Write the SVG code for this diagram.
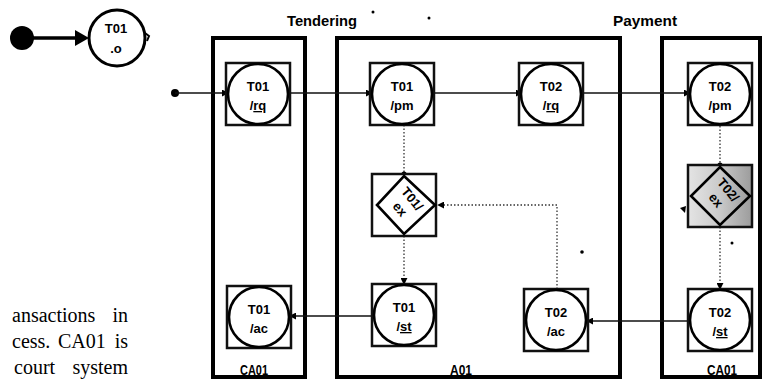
<svg xmlns="http://www.w3.org/2000/svg" width="764" height="381" viewBox="0 0 764 381">
<style>
.box{fill:none;stroke:#000;stroke-width:4}
.sq{fill:#fff;stroke:#111;stroke-width:2.5}
.cir{fill:#fff;stroke:#000;stroke-width:2.6}
.nt{font-family:"Liberation Sans",Arial,sans-serif;font-weight:bold;font-size:13px;fill:#000;text-anchor:middle}
.lbl{font-family:"Liberation Sans",Arial,sans-serif;font-weight:bold;font-size:14px;fill:#000;text-anchor:middle}
.body{font-family:"Liberation Serif","Times New Roman",serif;font-size:20px;fill:#000}
.solid{fill:none;stroke:#111;stroke-width:1.6}
.dot{fill:none;stroke:#333;stroke-width:1.3;stroke-dasharray:1.5 2}
.u{text-decoration:underline}
</style>
<defs>
<marker id="arr" viewBox="0 0 8 8" refX="7" refY="4" markerWidth="7" markerHeight="7" markerUnits="userSpaceOnUse" orient="auto"><path d="M0,0 L8,4 L0,8 z" fill="#000"/></marker>
<marker id="dt" viewBox="0 0 6 6" refX="3" refY="3" markerWidth="6" markerHeight="6" markerUnits="userSpaceOnUse"><circle cx="3" cy="3" r="2.6" fill="#000"/></marker>
<linearGradient id="gray" x1="0" y1="0" x2="1" y2="0"><stop offset="0" stop-color="#e4e4e4"/><stop offset="0.5" stop-color="#c9c9c9"/><stop offset="1" stop-color="#9c9c9c"/></linearGradient>
</defs>

<!-- body text fragment -->
<g id="bodytext">
<text class="body" x="12" y="322">ansactions</text><text class="body" x="128" y="322" text-anchor="end">in</text>
<text class="body" x="12" y="348">cess.</text><text class="body" x="58" y="348">CA01</text><text class="body" x="128" y="348" text-anchor="end">is</text>
<text class="body" x="14" y="374">court</text><text class="body" x="128" y="374" text-anchor="end">system</text>
</g>

<!-- legend -->
<g id="legend">
<circle cx="22" cy="38" r="12" fill="#000"/>
<line x1="30" y1="38" x2="78" y2="38" stroke="#000" stroke-width="3.5"/>
<path d="M75,30 L89,38 L75,46 z" fill="#000"/>
<circle cx="117" cy="38" r="28" fill="#fff" stroke="#000" stroke-width="3"/>
<path d="M145,33 L149,36 L147,41" fill="none" stroke="#000" stroke-width="2"/>
<text class="nt" x="116" y="33" font-size="11">T01</text>
<text class="nt" x="116" y="53" font-size="15">.o</text>
</g>

<!-- phase labels and boxes -->
<g id="labels">
<text class="lbl" x="322" y="26" textLength="70" lengthAdjust="spacingAndGlyphs">Tendering</text>
<text class="lbl" x="645" y="26" textLength="64" lengthAdjust="spacingAndGlyphs">Payment</text>
</g>
<g id="CA01_left"><rect class="box" x="213" y="38" width="92" height="339"/><text class="lbl" x="254" y="375" textLength="28" lengthAdjust="spacingAndGlyphs">CA01</text></g>
<g id="A01"><rect class="box" x="337" y="38" width="283" height="339"/><text class="lbl" x="461" y="375" textLength="22" lengthAdjust="spacingAndGlyphs">A01</text></g>
<g id="CA01_right"><rect class="box" x="662" y="38" width="98" height="339"/><text class="lbl" x="722" y="375" textLength="30" lengthAdjust="spacingAndGlyphs">CA01</text></g>

<!-- specks -->
<g id="specks" fill="#000">
<circle cx="373" cy="12" r="1.5"/><circle cx="429" cy="18" r="1.5"/><circle cx="582" cy="252" r="1.8"/><circle cx="732" cy="243" r="1.5"/>
<path d="M680,208 L686,206 L685,213 z"/>
</g>

<!-- connectors -->
<g id="connectors">
<circle cx="175" cy="93" r="4" fill="#000"/>
<line class="solid" x1="175" y1="93" x2="228" y2="93" marker-end="url(#arr)"/>
<line class="solid" x1="289" y1="93" x2="372" y2="93" marker-end="url(#arr)"/>
<line class="solid" x1="432" y1="93" x2="522" y2="93" marker-end="url(#arr)"/>
<line class="solid" x1="581" y1="93" x2="690" y2="93" marker-end="url(#arr)"/>
<line class="solid" x1="374" y1="316" x2="290" y2="316" marker-end="url(#arr)"/>
<line class="solid" x1="690" y1="321" x2="587" y2="321" marker-end="url(#arr)"/>
<line class="dot" x1="404" y1="125" x2="404" y2="174" marker-end="url(#dt)"/>
<line class="dot" x1="404" y1="236" x2="404" y2="284" marker-end="url(#arr)"/>
<polyline class="dot" points="557,289 557,205 438,205" marker-end="url(#arr)"/>
<line class="dot" x1="720" y1="126" x2="720" y2="165" marker-end="url(#dt)"/>
<line class="dot" x1="720" y1="227" x2="720" y2="289" marker-end="url(#arr)"/>
</g>

<!-- nodes -->
<g id="T01_rq"><rect class="sq" x="226" y="63" width="64" height="62"/><circle class="cir" cx="258" cy="94" r="30"/><text class="nt" x="258" y="91">T01</text><text class="nt" x="258" y="110">/<tspan class="u">rq</tspan></text></g>
<g id="T01_pm"><rect class="sq" x="370" y="63" width="64" height="62"/><circle class="cir" cx="402" cy="94" r="30"/><text class="nt" x="402" y="91">T01</text><text class="nt" x="402" y="110">/pm</text></g>
<g id="T02_rq"><rect class="sq" x="519" y="63" width="64" height="62"/><circle class="cir" cx="551" cy="94" r="30"/><text class="nt" x="551" y="91">T02</text><text class="nt" x="551" y="110">/<tspan class="u">rq</tspan></text></g>
<g id="T02_pm"><rect class="sq" x="688" y="63" width="64" height="62"/><circle class="cir" cx="720" cy="94" r="30"/><text class="nt" x="720" y="91">T02</text><text class="nt" x="720" y="110">/pm</text></g>

<g id="T01_ex"><rect class="sq" x="372" y="174" width="64" height="62"/><path d="M404,176 L435,205 L404,234 L377,205 z" fill="#fff" stroke="#000" stroke-width="2.6"/>
<g transform="translate(405,205) rotate(50)"><text class="nt" x="0" y="-5" font-size="12">T01/</text><text class="nt" x="0" y="11" font-size="12">ex</text></g></g>
<g id="T02_ex"><rect x="688" y="165" width="64" height="62" fill="url(#gray)" stroke="#111" stroke-width="2.5"/><path d="M720,167 L750,196 L720,225 L691,196 z" fill="url(#gray)" stroke="#000" stroke-width="2.6"/>
<g transform="translate(721,196) rotate(50)"><text class="nt" x="0" y="-5" font-size="12">T02/</text><text class="nt" x="0" y="11" font-size="12">ex</text></g></g>

<g id="T01_ac"><rect class="sq" x="227" y="286" width="64" height="62"/><circle class="cir" cx="259" cy="317" r="30"/><text class="nt" x="259" y="314">T01</text><text class="nt" x="259" y="333">/ac</text></g>
<g id="T01_st"><rect class="sq" x="372" y="284" width="64" height="62"/><circle class="cir" cx="404" cy="315" r="30"/><text class="nt" x="404" y="312">T01</text><text class="nt" x="404" y="331">/<tspan class="u">st</tspan></text></g>
<g id="T02_ac"><rect class="sq" x="524" y="289" width="64" height="62"/><circle class="cir" cx="556" cy="320" r="30"/><text class="nt" x="556" y="317">T02</text><text class="nt" x="556" y="336">/ac</text></g>
<g id="T02_st"><rect class="sq" x="688" y="289" width="64" height="62"/><circle class="cir" cx="720" cy="320" r="30"/><text class="nt" x="720" y="317">T02</text><text class="nt" x="720" y="336">/<tspan class="u">st</tspan></text></g>
</svg>
